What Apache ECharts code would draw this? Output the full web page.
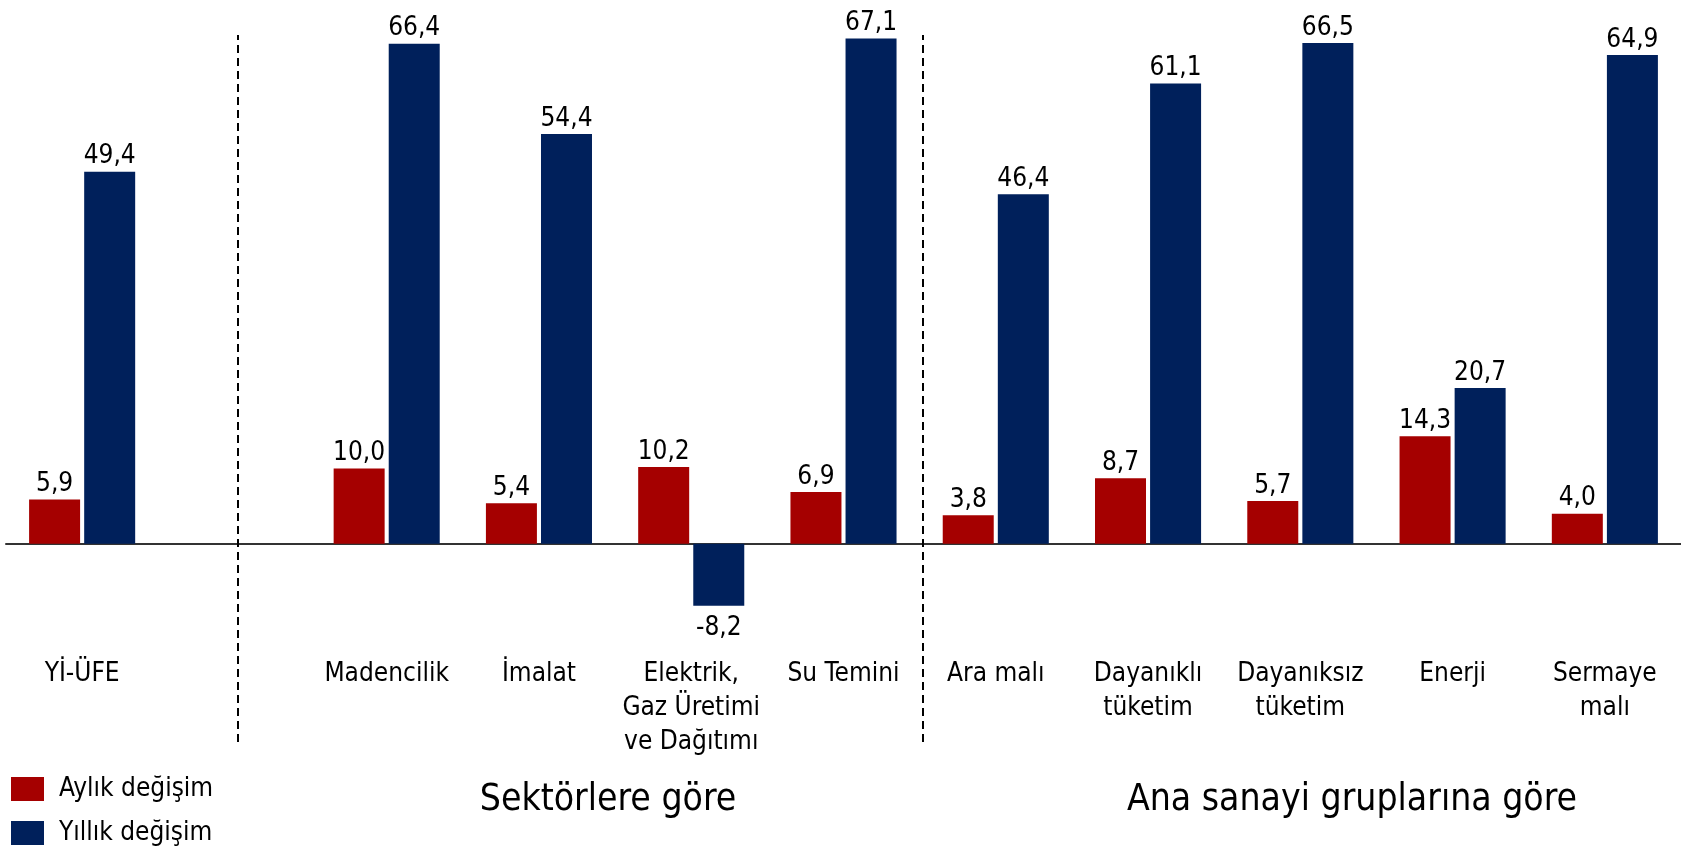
<!DOCTYPE html>
<html>
<head>
<meta charset="utf-8">
<script src="https://cdn.jsdelivr.net/npm/echarts@6/dist/echarts.min.js"></script>
<style>
html,body{margin:0;padding:0;background:#fff;}
#chart{width:1681px;height:850px;}
</style>
</head>
<body>
<div id="chart"></div>
<script>
const categories = ['Yİ-ÜFE', '', 'Madencilik', 'İmalat', 'Elektrik,\nGaz Üretimi\nve Dağıtımı', 'Su Temini', 'Ara malı', 'Dayanıklı\ntüketim', 'Dayanıksız\ntüketim', 'Enerji', 'Sermaye\nmalı'];
const monthly = [5.9, null, 10.0, 5.4, 10.2, 6.9, 3.8, 8.7, 5.7, 14.3, 4.0];
const annual = [49.4, null, 66.4, 54.4, -8.2, 67.1, 46.4, 61.1, 66.5, 20.7, 64.9];
const seriesNames = ['Aylık değişim', 'Yıllık değişim'];
const groupTitles = ['Sektörlere göre', 'Ana sanayi gruplarına göre'];
// separator positions, in category-index units
const separators = [1.021, 5.52];

const FONT = '"DejaVu Sans Condensed", "DejaVu Sans", sans-serif';
const RED = '#A50000';
const BLUE = '#00205B';
const Y_MIN = -26.3, Y_MAX = 67.55;
const GRID_TOP = 35, GRID_BOTTOM = 108, CH = 850;
const plotH = CH - GRID_TOP - GRID_BOTTOM;
// distance from grid bottom up to the zero line
const zeroOffset = plotH * (0 - Y_MIN) / (Y_MAX - Y_MIN);

function fmt(v) { return v == null ? '' : v.toFixed(1).replace('.', ','); }
function toData(arr) {
  return arr.map(v => v == null ? null : ({
    value: v,
    label: v < 0 ? { position: 'bottom', distance: 10 } : { position: 'top', distance: 2 }
  }));
}
const labelCfg = {
  show: true, color: '#000', fontFamily: FONT, fontSize: 26, lineHeight: 26,
  formatter: p => fmt(p.value)
};
const gridBox = { left: 6, width: 1677, top: GRID_TOP, bottom: GRID_BOTTOM, containLabel: false };

const chart = echarts.init(document.getElementById('chart'), null, {renderer: 'canvas'});
chart.setOption({
  animation: false,
  backgroundColor: '#fff',
  textStyle: { fontFamily: FONT },
  grid: [Object.assign({}, gridBox), Object.assign({}, gridBox)],
  legend: {
    orient: 'vertical', left: 11, top: 776, itemWidth: 33, itemHeight: 24, itemGap: 18,
    padding: 0, icon: 'rect', data: seriesNames,
    textStyle: { fontFamily: FONT, fontSize: 26, color: '#000', padding: [0, 0, 0, 10] }
  },
  title: [
    { text: groupTitles[0], left: 608, top: 800, textAlign: 'center', textVerticalAlign: 'middle', padding: 0,
      textStyle: { fontFamily: FONT, fontSize: 37, fontWeight: 'normal', color: '#000' } },
    { text: groupTitles[1], left: 1352, top: 800, textAlign: 'center', textVerticalAlign: 'middle', padding: 0,
      textStyle: { fontFamily: FONT, fontSize: 37, fontWeight: 'normal', color: '#000' } }
  ],
  xAxis: [
    {
      gridIndex: 0, type: 'category', data: categories, position: 'bottom', offset: -zeroOffset,
      axisLine: { show: true, onZero: false, lineStyle: { color: '#333', width: 2 } },
      axisTick: { show: false },
      axisLabel: { show: true, interval: 0, margin: 113, color: '#000', fontFamily: FONT, fontSize: 26, lineHeight: 34, align: 'center' },
      splitLine: { show: false }
    },
    {
      gridIndex: 1, type: 'value', min: -0.5, max: categories.length - 0.5, show: false,
      splitLine: { show: false }
    }
  ],
  yAxis: [
    { gridIndex: 0, type: 'value', min: Y_MIN, max: Y_MAX, show: false, splitLine: { show: false } },
    { gridIndex: 1, type: 'value', min: 0, max: 1, show: false, splitLine: { show: false } }
  ],
  series: [
    {
      name: seriesNames[0], type: 'bar', data: toData(monthly), barWidth: 51, barGap: '8%',
      itemStyle: { color: RED }, label: labelCfg
    },
    {
      name: seriesNames[1], type: 'bar', data: toData(annual), barWidth: 51, barGap: '8%',
      itemStyle: { color: BLUE }, label: labelCfg
    },
    {
      name: 'separators', type: 'scatter', xAxisIndex: 1, yAxisIndex: 1, data: [], silent: true,
      markLine: {
        silent: true, symbol: ['none', 'none'], animation: false,
        label: { show: false },
        lineStyle: { color: '#000', width: 2, type: [8, 5] },
        data: separators.map(x => ({ xAxis: x }))
      }
    }
  ]
});
</script>
</body>
</html>
